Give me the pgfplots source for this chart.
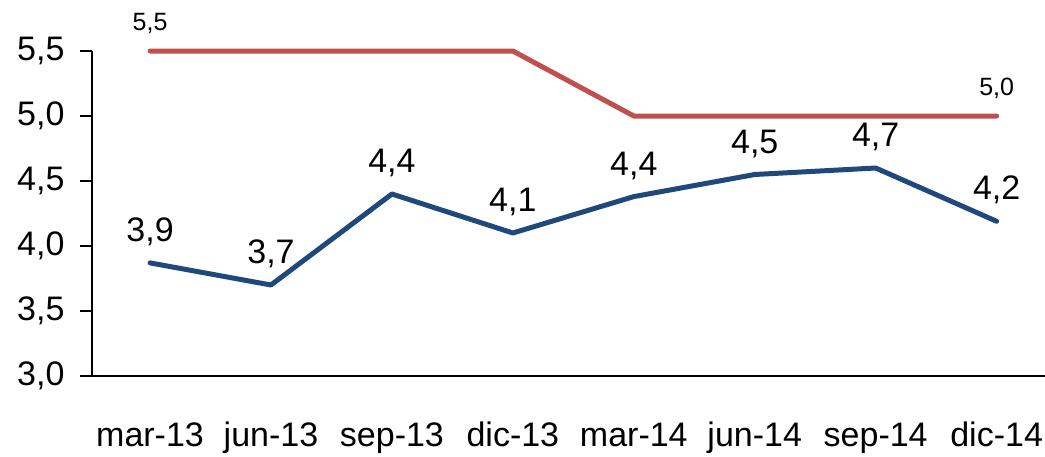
\documentclass[border=0pt]{standalone}
\usepackage{pgfplots}
\pgfplotsset{compat=1.18}
\usepackage{fontspec}
\setmainfont{Liberation Sans}
\definecolor{redl}{RGB}{192,80,77}
\definecolor{bluel}{RGB}{31,73,125}
\begin{document}
\begin{tikzpicture}
\path[use as bounding box] (-92pt,-80pt) rectangle (953pt,376pt);
\begin{axis}[
  scale only axis, width=953pt, height=325pt,
  xmin=-0.48, xmax=7.40, ymin=3, ymax=5.5,
  axis lines*=left,
  axis line style={line width=1.5pt, black},
  clip=false,
  xtick={0,...,7},
  xticklabels={mar-13,jun-13,sep-13,dic-13,mar-14,jun-14,sep-14,dic-14},
  x tick style={draw=none},
  ytick={3,3.5,4,4.5,5,5.5},
  y tick style={line width=1.5pt, black},
  tick align=outside,
  major tick length=12pt,
  /pgf/number format/fixed,
  /pgf/number format/fixed zerofill,
  /pgf/number format/precision=1,
  /pgf/number format/use comma,
  /pgf/number format/assume math mode=true,
  tick label style={font=\fontsize{34}{38}\selectfont},
  xticklabel style={anchor=base, yshift=-58pt},
  yticklabel style={xshift=-12pt},
  nodes near coords,
  point meta=explicit symbolic,
]
\addplot[color=redl, line width=5pt, line cap=round, line join=round,
  every node near coord/.style={anchor=center, yshift=28pt, font=\fontsize{25}{28}\selectfont, text=black}]
  coordinates {(0,5.5)[5,5] (1,5.5)[] (2,5.5)[] (3,5.5)[] (4,5.0)[] (5,5.0)[] (6,5.0)[] (7,5.0)[5,0]};
\addplot[color=bluel, line width=5pt, line cap=round, line join=round,
  every node near coord/.style={anchor=center, yshift=31pt, font=\fontsize{34}{38}\selectfont, text=black}]
  coordinates {(0,3.87)[3,9] (1,3.70)[3,7] (2,4.40)[4,4] (3,4.10)[4,1] (4,4.38)[4,4] (5,4.55)[4,5] (6,4.60)[4,7] (7,4.19)[4,2]};
\end{axis}
\end{tikzpicture}
\end{document}
